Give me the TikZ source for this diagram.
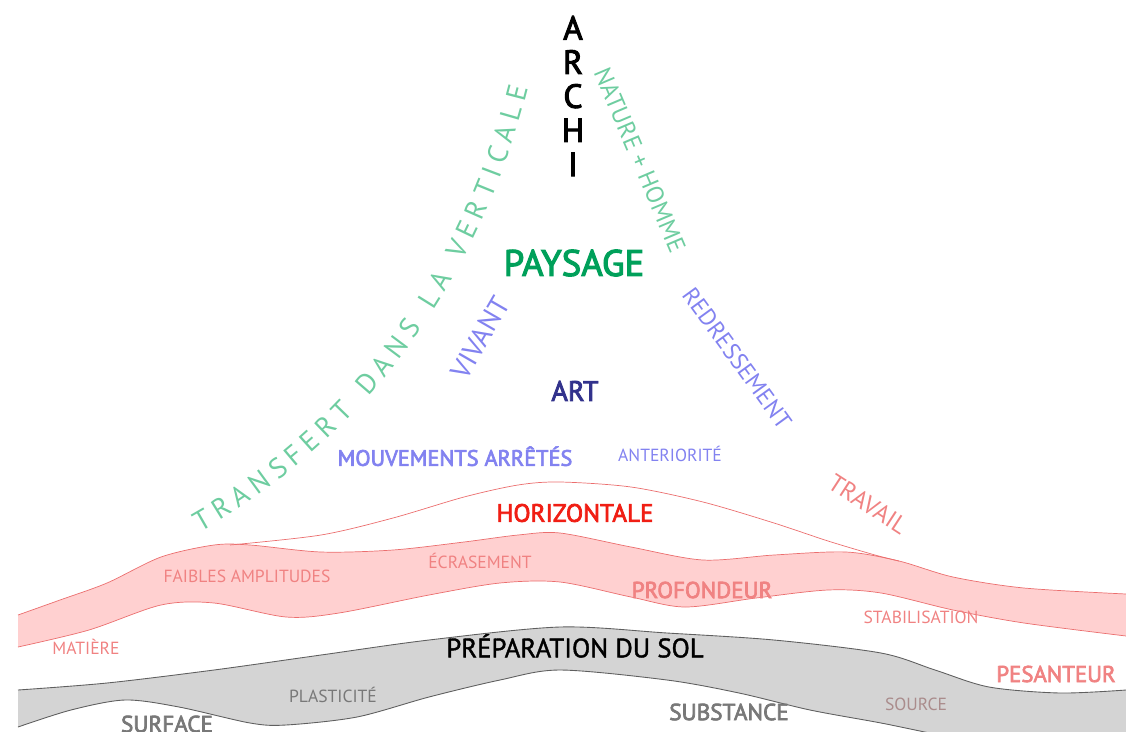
\documentclass[tikz,border=0pt]{standalone}
\usepackage{fontspec}
\setmainfont{PT Sans}
\newfontfamily\semib[FakeBold=3]{PT Sans}
\newfontfamily\medium[FakeBold=1.5]{PT Sans}
\usetikzlibrary{positioning,decorations.text}
\definecolor{leafgreen}{RGB}{0,160,90}
\definecolor{mint}{RGB}{110,205,160}
\definecolor{lilac}{RGB}{130,130,240}
\definecolor{indigo}{RGB}{50,50,140}
\definecolor{redhot}{RGB}{240,30,20}
\definecolor{salmon}{RGB}{240,130,130}
\definecolor{pinkfill}{RGB}{255,208,208}
\definecolor{pinkline}{RGB}{235,110,110}
\definecolor{soilfill}{RGB}{212,212,212}
\definecolor{soilline}{RGB}{95,95,95}
\definecolor{soiltext}{RGB}{120,120,120}
\definecolor{rosegray}{RGB}{170,140,140}
\tikzset{
  word/.style={inner sep=0pt, text depth=0pt, text height={0.7*#1pt}, font=\fontsize{#1}{#1}\selectfont},
  word/.default=10,
  small/.style={word=10},
  mid/.style={word=#1},
  mid/.default=13,
  heavy/.style={word=#1, font=\semib\fontsize{#1}{#1}\selectfont},
  letter/.style={heavy=19, node distance=5.7pt},
  pinkedge/.style={draw=pinkline, line width=0.4pt},
  soiledge/.style={draw=soilline, line width=0.5pt}
}

\begin{document}
\begin{tikzpicture}[x=0.02cm, y=-0.02cm]
    \useasboundingbox (0,0) rectangle (1126,731);
    \begin{scope}
    \clip (0,0) rectangle (1126,731);
    \fill[pinkfill] plot[smooth] coordinates {(18,615) (60,600) (107,583) (161,557) (214,545) (250,545) (321,552) (393,550) (464,542) (518,535) (560,533) (631,547) (703,560) (774,555) (846,552) (899,561) (953,577) (1024,588) (1126,594)}
        -- plot[smooth] coordinates {(1126,636) (1024,623) (953,610) (881,593) (828,590) (756,598) (685,607) (631,597) (560,582) (500,583) (429,595) (339,613) (286,617) (214,603) (161,605) (89,630) (18,647)} -- cycle;
    \draw[pinkedge] plot[smooth] coordinates {(18,615) (60,600) (107,583) (161,557) (214,545) (250,545) (321,552) (393,550) (464,542) (518,535) (560,533) (631,547) (703,560) (774,555) (846,552) (899,561) (953,577) (1024,588) (1126,594)};
    \draw[pinkedge] plot[smooth] coordinates {(18,647) (89,630) (161,605) (214,603) (286,617) (339,613) (429,595) (500,583) (560,582) (631,597) (685,607) (756,598) (828,590) (881,593) (953,610) (1024,623) (1126,636)};
    \draw[pinkedge] plot[smooth] coordinates {(230,545) (321,535) (393,518) (464,497) (518,485) (560,482) (631,487) (703,502) (774,523) (828,541) (875,555) (899,561)};

    \fill[soilfill] plot[smooth] coordinates {(18,690) (107,683) (214,670) (321,655) (429,640) (560,627) (667,633) (774,640) (881,653) (935,670) (989,687) (1060,693) (1126,690)}
        -- plot[smooth] coordinates {(1126,745) (1000,745) (940,735) (881,723) (810,710) (739,693) (667,680) (560,670) (500,680) (429,697) (357,717) (286,725) (250,723) (179,707) (125,700) (71,710) (18,727)} -- cycle;
    \draw[soiledge] plot[smooth] coordinates {(18,690) (107,683) (214,670) (321,655) (429,640) (560,627) (667,633) (774,640) (881,653) (935,670) (989,687) (1060,693) (1126,690)};
    \draw[soiledge] plot[smooth] coordinates {(18,727) (71,710) (125,700) (179,707) (250,723) (286,725) (357,717) (429,697) (500,680) (560,670) (667,680) (739,693) (810,710) (881,723) (940,735) (1000,745) (1126,745)};
    \end{scope}

    \node[letter] (ArchA) at (573,28) {A};
    \node[letter, below=of ArchA] (ArchR) {R};
    \node[letter, below=of ArchR] (ArchC) {C};
    \node[letter, below=of ArchC] (ArchH) {H};
    \node[letter, below=of ArchH] (ArchI) {I};

    \path[decorate, decoration={text along path, text color=mint,
        text={|\fontsize{16}{18}\selectfont|TRANSFERT DANS LA VERTICALE}, text align={fit to path}}]
        (200,532) .. controls (365,440) and (480,280) .. (528,88);

    \node[mid=14, text=mint, rotate=-67] (Nature) at (640,160) {NATURE + HOMME};
    \node[heavy=21, text=leafgreen] (Paysage) at (574,263) {PAYSAGE};
    \node[mid=16, text=lilac, rotate=60] (Vivant) at (480,338) {VIVANT};
    \node[mid=13.5, text=lilac, rotate=-54] (Redressement) at (737,358) {REDRESSEMENT};
    \node[heavy=16, text=indigo] (Art) at (575,391) {ART};
    \node[heavy=12.7, text=lilac] (Mouvements) at (455,458) {MOUVEMENTS ARRÊTÉS};
    \node[small, text=lilac] (Anteriorite) at (670,455) {ANTERIORITÉ};
    \node[mid=14, text=salmon, rotate=-33] (Travail) at (868,504) {TRAVAIL};
    \node[heavy=14.3, text=redhot] (Horizontale) at (575,513) {HORIZONTALE};

    \node[small, text=salmon] (Faibles) at (247,576) {FAIBLES AMPLITUDES};
    \node[small, text=salmon] (Ecrasement) at (480,562) {ÉCRASEMENT};
    \node[heavy=13.1, text=salmon] (Profondeur) at (702,590) {PROFONDEUR};
    \node[small, text=salmon] (Stabilisation) at (921,617) {STABILISATION};
    \node[small, text=salmon] (Matiere) at (86,648) {MATIÈRE};
    \node[mid=15.2, font=\medium\fontsize{15.2}{16}\selectfont] (Preparation) at (575,648) {PRÉPARATION DU SOL};
    \node[heavy=13, text=salmon] (Pesanteur) at (1056,674) {PESANTEUR};
    \node[small, text=soiltext] (Plasticite) at (333,696) {PLASTICITÉ};
    \node[heavy=13.2, text=soiltext] (Surface) at (167,724) {SURFACE};
    \node[heavy=13.2, text=soiltext] (Substance) at (729,712) {SUBSTANCE};
    \node[small, text=rosegray] (Source) at (916,704) {SOURCE};
\end{tikzpicture}
\end{document}
